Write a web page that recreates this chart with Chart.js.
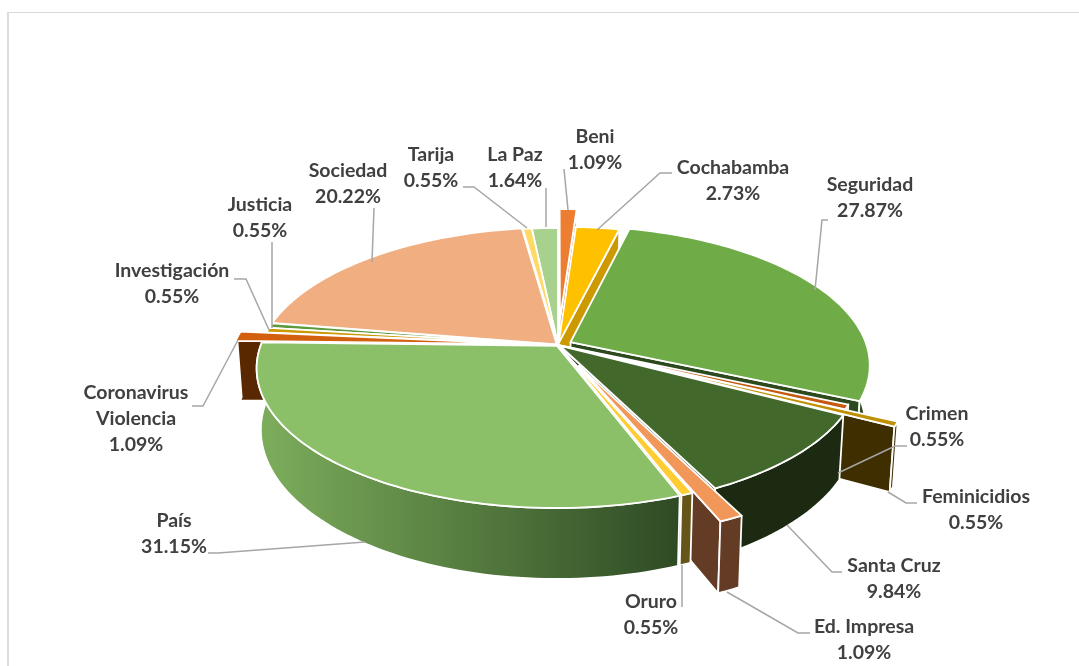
<!DOCTYPE html>
<html lang="es">
<head>
    <meta charset="UTF-8">
    <title>Temas</title>
    <script src="https://cdn.jsdelivr.net/npm/chart.js"></script>
    <style>
        html, body { margin: 0; background: #fff; overflow: hidden; }
        #frame { position: absolute; left: 7px; top: 12px; width: 1080px; height: 670px; border-left: 2px solid #dcdcdc; border-top: 1px solid #d9d9d9; }
        canvas { position: absolute; left: 0; top: 0; }
    </style>
</head>
<body>
    <div id="frame"></div>
    <canvas id="pieChart" width="1079" height="666"></canvas>

    <script>
        const categories = ['Beni', 'Cochabamba', 'Seguridad', 'Crimen', 'Feminicidios', 'Santa Cruz', 'Ed. Impresa', 'Oruro', 'País', 'Coronavirus\nViolencia', 'Investigación', 'Justicia', 'Sociedad', 'Tarija', 'La Paz'];
        const shares = [1.09, 2.73, 27.87, 0.55, 0.55, 9.84, 1.09, 0.55, 31.15, 1.09, 0.55, 0.55, 20.22, 0.55, 1.64];

        const topColors = ['#ED7D31', '#FFC000', '#6FAC47', '#C55A11', '#BF9000', '#43682B', '#F1975A', '#FFCD33', '#8BC068', '#D2600F', '#CC9900', '#5C9A3C', '#F1AF81', '#FFD966', '#A9D18E'];
        const wallColors = ['#B85A1A', '#CC9900', '#2C4A1D', '#7A3A0C', '#3F2F00', '#1B2A10', '#643B24', '#665518', ['#7DAE5C', '#2E4A24'], '#5A2800', '#8A6A00', '#33561F', '#B5835F', '#BFA24C', '#7E9C6A'];
        const explode = [57, 4, 14, 1, 51, 3, 49, 1, 2, 28, 1, 1, 2, 0, 0];

        // label anchor (centre of first line) and leader line, in page pixels
        const labelSpots = [
            { x: 595, y: 137, line: [[564, 169], [568, 210]] },
            { x: 733, y: 168, line: [[672, 173], [660, 173], [597, 230]] },
            { x: 870, y: 185, line: [[828, 220], [822, 220], [815, 290]] },
            { x: 937, y: 414, line: [[907, 446], [895, 446], [838, 473]] },
            { x: 976, y: 497, line: [[917, 503], [906, 503], [888, 492]] },
            { x: 894, y: 566, line: [[842, 572], [832, 572], [787, 525]] },
            { x: 864, y: 627, line: [[810, 633], [798, 633], [727, 592]] },
            { x: 651, y: 602, line: [[682, 607], [682, 565]] },
            { x: 174, y: 521, line: [[208, 553], [218, 553], [365, 542]] },
            { x: 136, y: 393, line: [[192, 406], [203, 406], [238, 340]] },
            { x: 172, y: 271, line: [[234, 279], [246, 279], [269, 330]] },
            { x: 260, y: 205, line: [[272, 242], [272, 328]] },
            { x: 348, y: 171, line: [[374, 208], [372, 262]] },
            { x: 431, y: 155, line: [[463, 187], [474, 187], [527, 228]] },
            { x: 515, y: 155, line: [[546, 188], [546, 227]] }
        ];

        const PERSPECTIVE = 0.161;
        const TOP_SQUASH = 0.459;
        const BASE_SQUASH = 0.49;
        const BASE_WIDTH = 0.986;
        const DEPTH = 60;

        // plane coordinates (x right, y towards the viewer) to the screen
        function project(arc, px, py, isBase) {
            const w = 1 - PERSPECTIVE * py / arc.outerRadius;
            return [
                arc.x + (isBase ? BASE_WIDTH : 1) * px / w,
                arc.y + (isBase ? DEPTH : 0) + (isBase ? BASE_SQUASH : TOP_SQUASH) * py / w
            ];
        }

        function fillShape(ctx, points, fill) {
            ctx.beginPath();
            points.forEach((p, i) => i ? ctx.lineTo(p[0], p[1]) : ctx.moveTo(p[0], p[1]));
            ctx.closePath();
            ctx.fillStyle = fill;
            ctx.fill();
            ctx.stroke();
        }

        function drawSlice(ctx, arc, index) {
            const start = arc.startAngle + Math.PI / 2;
            const end = arc.endAngle + Math.PI / 2;
            const mid = (start + end) / 2;
            const off = arc.options.offset;
            const ax = off * Math.sin(mid);
            const ay = -off * Math.cos(mid);
            const R = arc.outerRadius;

            const rimAt = (t, isBase) => project(arc, ax + R * Math.sin(t), ay - R * Math.cos(t), isBase);
            const steps = Math.max(2, Math.ceil((end - start) * 40));
            const topRim = [];
            const frontTop = [];
            const frontBase = [];
            for (let i = 0; i <= steps; i++) {
                const t = start + (end - start) * i / steps;
                topRim.push(rimAt(t, false));
                // the back of the rim sits under the top face
                if (-Math.cos(t) > -0.05) {
                    frontTop.push(rimAt(t, false));
                    frontBase.push(rimAt(t, true));
                }
            }
            const apexTop = project(arc, ax, ay, false);
            const apexBase = project(arc, ax, ay, true);

            let wall = wallColors[index];
            if (Array.isArray(wall)) {
                const xs = topRim.map(p => p[0]);
                const g = ctx.createLinearGradient(Math.min(...xs), 0, Math.max(...xs), 0);
                g.addColorStop(0, wall[0]);
                g.addColorStop(1, wall[1]);
                wall = g;
            }

            ctx.strokeStyle = '#fff';
            ctx.lineWidth = 1.8;
            ctx.lineJoin = 'round';
            if (Math.sin(start) < 0) {
                fillShape(ctx, [apexTop, topRim[0], rimAt(start, true), apexBase], wall);
            }
            if (Math.sin(end) > 0) {
                fillShape(ctx, [apexTop, topRim[steps], rimAt(end, true), apexBase], wall);
            }
            if (frontTop.length > 1) {
                fillShape(ctx, frontTop.concat(frontBase.reverse()), wall);
            }
            fillShape(ctx, [apexTop].concat(topRim), arc.options.backgroundColor);
        }

        const pie3d = {
            id: 'pie3d',
            beforeDatasetDraw(chart) {
                const ctx = chart.ctx;
                const arcs = chart.getDatasetMeta(0).data;
                // back to front, by the nearest point of each slice's rim
                const order = arcs.map((arc, i) => {
                    const s = arc.startAngle + Math.PI / 2;
                    const e = arc.endAngle + Math.PI / 2;
                    const nearest = (s <= Math.PI && e >= Math.PI) ? 1 : Math.max(-Math.cos(s), -Math.cos(e));
                    return { arc, i, nearest };
                });
                order.sort((a, b) => a.nearest - b.nearest);
                ctx.save();
                order.forEach(o => drawSlice(ctx, o.arc, o.i));
                ctx.restore();
                return false;
            },
            afterDraw(chart) {
                const ctx = chart.ctx;
                ctx.save();
                ctx.strokeStyle = '#a6a6a6';
                ctx.lineWidth = 1.5;
                labelSpots.forEach(spot => {
                    ctx.beginPath();
                    spot.line.forEach((p, i) => i ? ctx.lineTo(p[0], p[1]) : ctx.moveTo(p[0], p[1]));
                    ctx.stroke();
                });
                ctx.font = 'bold 19.5px Lato';
                ctx.fillStyle = '#404040';
                ctx.textAlign = 'center';
                ctx.textBaseline = 'middle';
                categories.forEach((name, i) => {
                    const lines = name.split('\n').concat(shares[i].toFixed(2) + '%');
                    lines.forEach((text, j) => ctx.fillText(text, labelSpots[i].x, labelSpots[i].y + j * 26));
                });
                ctx.restore();
            }
        };

        new Chart(document.getElementById('pieChart'), {
            type: 'pie',
            data: {
                labels: categories,
                datasets: [{ data: shares, backgroundColor: topColors, offset: explode, borderWidth: 0 }]
            },
            options: {
                responsive: false,
                animation: false,
                radius: 296,
                rotation: 0,
                layout: { padding: { left: 37, top: 24 } },
                plugins: { legend: { display: false }, tooltip: { enabled: false } }
            },
            plugins: [pie3d]
        });
    </script>
</body>
</html>
